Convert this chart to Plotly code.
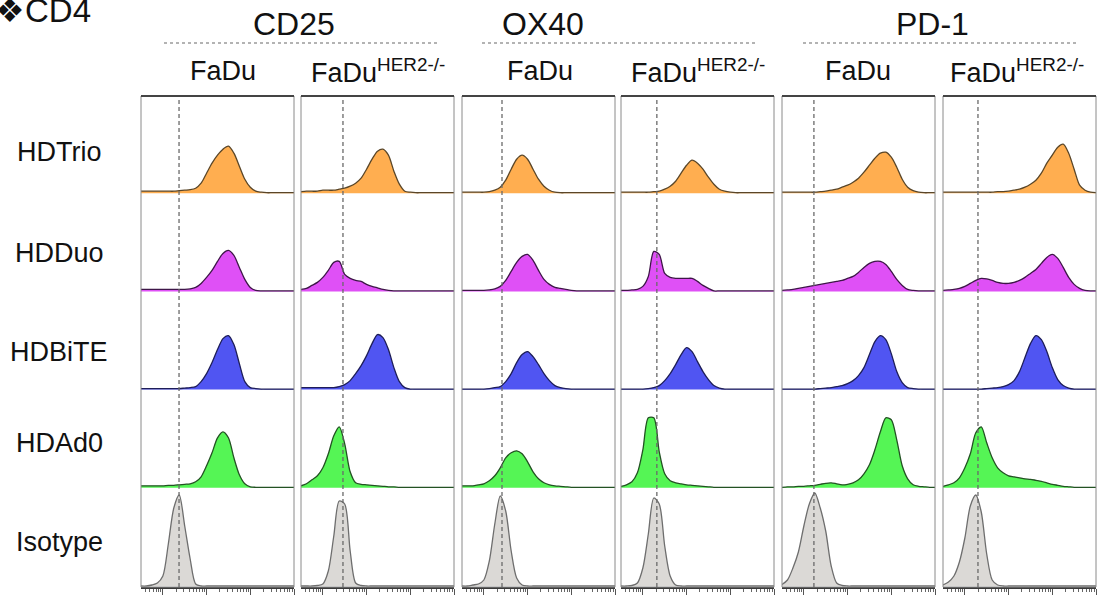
import math
import plotly.graph_objects as go

W, H = 1099, 595

# ---------------- data ----------------
# fluorescence axis (log10 decades), shared bin centres
X_DEC = [-0.5, -0.375, -0.25, -0.125, 0.0, 0.125, 0.25, 0.375, 0.5, 0.625,
         0.75, 0.875, 1.0, 1.125, 1.25, 1.375, 1.5, 1.625, 1.75, 1.875,
         2.0, 2.125, 2.25, 2.375, 2.5, 2.625, 2.75, 2.875, 3.0]

MARKERS = ["CD25", "OX40", "PD-1"]
CELL_LINES = ["FaDu", "FaDu<sup>HER2-/-</sup>"]
TREATMENTS = ["HDTrio", "HDDuo", "HDBiTE", "HDAd0", "Isotype"]
# isotype reference (dashed line) per panel, log10 decades
ISO_PEAK = [0.37, 0.46, 0.415, 0.32, 0.23, 0.30]

# CD25 / FaDu
CD25_FADU_HDTRIO = [2, 2, 2, 2, 2, 2, 2, 2.5, 3, 3.5, 5, 10, 20, 30, 38, 44, 47, 40, 27, 14, 6, 2, 1, 0.5, 0.5, 0.5, 0.5, 0.5, 0.5]
CD25_FADU_HDDUO = [2, 2, 2, 2, 2, 2, 2, 2, 2, 2.5, 4, 8, 14, 21, 30, 38, 41, 36, 24, 12, 4, 1, 0.5, 0.5, 0.5, 0.5, 0.5, 0.5, 0.5]
CD25_FADU_HDBITE = [1, 1, 1, 1, 1, 1, 1, 1, 1.5, 2, 3, 8, 16, 27, 40, 51, 54, 45, 26, 8, 2, 1, 0.5, 0.5, 0.5, 0.5, 0.5, 0.5, 0.5]
CD25_FADU_HDAD0 = [2, 2, 2, 2, 2, 2.5, 2.5, 3, 3.5, 4, 6, 11, 22, 35, 50, 56, 50, 30, 13, 4, 1, 0.5, 0.5, 0.5, 0.5, 0.5, 0.5, 0.5, 0.5]
CD25_FADU_ISOTYPE = [0, 0, 1, 3, 10, 42, 78, 91, 60, 27, 2, 0, 0, 0, 0, 0, 0, 0, 0, 0, 0, 0, 0, 0, 0, 0, 0, 0, 0]

# CD25 / FaDu HER2-/-
CD25_HER2KO_HDTRIO = [1.5, 2, 2, 2, 3, 3, 3, 4, 5, 7, 10, 15, 24, 34, 42, 44, 38, 22, 9, 2, 1, 0.5, 0.5, 0.5, 0.5, 0.5, 0.5, 0.5, 0.5]
CD25_HER2KO_HDDUO = [2, 3, 6, 9, 14, 21, 29, 30, 17, 13, 11, 10, 7, 5, 3.5, 2, 1, 0.5, 0.5, 0.5, 0.5, 0.5, 0.5, 0.5, 0.5, 0.5, 0.5, 0.5, 0.5]
CD25_HER2KO_HDBITE = [2, 2, 2, 2, 2, 2, 2, 3, 5, 9, 16, 24, 34, 46, 55, 52, 40, 22, 8, 2, 0.5, 0.5, 0.5, 0.5, 0.5, 0.5, 0.5, 0.5, 0.5]
CD25_HER2KO_HDAD0 = [2, 4, 8, 12, 20, 34, 52, 61, 44, 16, 5, 3.5, 3, 2.5, 2, 1.5, 1, 1, 0.5, 0.5, 0.5, 0.5, 0.5, 0.5, 0.5, 0.5, 0.5, 0.5, 0.5]
CD25_HER2KO_ISOTYPE = [0, 0, 0, 0.5, 2, 15, 50, 85, 82, 35, 3, 0.5, 0, 0, 0, 0, 0, 0, 0, 0, 0, 0, 0, 0, 0, 0, 0, 0, 0]

# OX40 / FaDu
OX40_FADU_HDTRIO = [1, 1, 1, 1, 1, 1.5, 3, 6, 13, 24, 34, 38, 34, 24, 14, 7, 3, 1, 0.5, 0.5, 0.5, 0.5, 0.5, 0.5, 0.5, 0.5, 0.5, 0.5, 0.5]
OX40_FADU_HDDUO = [1, 1, 1, 1, 1, 1.5, 2.5, 5, 11, 20, 29, 35, 37, 31, 21, 12, 7, 4, 3, 2, 1, 0.5, 0.5, 0.5, 0.5, 0.5, 0.5, 0.5, 0.5]
OX40_FADU_HDBITE = [0.5, 0.5, 0.5, 0.5, 0.5, 1, 2, 3, 8, 16, 27, 35, 38, 33, 25, 16, 9, 4, 2, 1, 0.5, 0.5, 0.5, 0.5, 0.5, 0.5, 0.5, 0.5, 0.5]
OX40_FADU_HDAD0 = [2, 2, 2, 3, 4, 7, 12, 20, 30, 35, 37, 34, 26, 16, 9, 5, 3, 2, 1.5, 1, 0.5, 0.5, 0.5, 0.5, 0.5, 0.5, 0.5, 0.5, 0.5]
OX40_FADU_ISOTYPE = [0, 0, 1, 2, 6, 25, 62, 90, 75, 35, 8, 1, 0, 0, 0, 0, 0, 0, 0, 0, 0, 0, 0, 0, 0, 0, 0, 0, 0]

# OX40 / FaDu HER2-/-
OX40_HER2KO_HDTRIO = [1, 1, 1, 1, 1, 1, 1.5, 2, 4, 7, 12, 20, 28, 33, 30, 24, 16, 9, 4, 2, 1, 0.5, 0.5, 0.5, 0.5, 0.5, 0.5, 0.5, 0.5]
OX40_HER2KO_HDDUO = [1, 1, 1.5, 2, 5, 15, 40, 37, 18, 14, 13, 13, 13, 13, 10, 6, 3, 0.5, 0.5, 0.5, 0.5, 0.5, 0.5, 0.5, 0.5, 0.5, 0.5, 0.5, 0.5]
OX40_HER2KO_HDBITE = [0.5, 0.5, 0.5, 0.5, 0.5, 1, 2, 4, 9, 16, 25, 35, 42, 38, 28, 18, 10, 4, 1.5, 0.5, 0.5, 0.5, 0.5, 0.5, 0.5, 0.5, 0.5, 0.5, 0.5]
OX40_HER2KO_HDAD0 = [1.5, 3, 6, 15, 38, 70, 70, 36, 14, 7, 5, 4, 3, 2.5, 2, 1.5, 1, 0.5, 0.5, 0.5, 0.5, 0.5, 0.5, 0.5, 0.5, 0.5, 0.5, 0.5, 0.5]
OX40_HER2KO_ISOTYPE = [0, 0, 0.5, 3, 18, 52, 88, 82, 40, 10, 1, 0, 0, 0, 0, 0, 0, 0, 0, 0, 0, 0, 0, 0, 0, 0, 0, 0, 0]

# PD-1 / FaDu
PD1_FADU_HDTRIO = [1, 1, 1, 1, 1, 1, 1, 1.5, 2, 3, 4, 6, 8, 11, 15, 21, 28, 35, 40, 41, 36, 26, 14, 6, 2.5, 1, 0.5, 0.5, 0.5]
PD1_FADU_HDDUO = [1, 1.5, 2, 3, 4, 5, 6, 7, 8, 9, 10, 11, 13, 15, 19, 24, 28, 30, 30, 27, 20, 12, 6, 2, 1, 0.5, 0.5, 0.5, 0.5]
PD1_FADU_HDBITE = [0.5, 0.5, 0.5, 0.5, 0.5, 0.5, 0.5, 1, 1.5, 2, 3, 4, 6, 9, 14, 22, 35, 48, 54, 50, 36, 18, 7, 2, 1, 0.5, 0.5, 0.5, 0.5]
PD1_FADU_HDAD0 = [0.5, 1, 1, 1.5, 1.5, 2, 2.5, 3.5, 4.5, 5, 4, 3, 3.5, 5, 8, 14, 23, 38, 56, 70, 68, 48, 22, 9, 3, 1.5, 1, 0.5, 0.5]
PD1_FADU_ISOTYPE = [1.5, 6, 18, 34, 60, 82, 93, 78, 55, 20, 3, 0.5, 0, 0, 0, 0, 0, 0, 0, 0, 0, 0, 0, 0, 0, 0, 0, 0, 0]

# PD-1 / FaDu HER2-/-
PD1_HER2KO_HDTRIO = [1, 1, 1, 1, 1, 1, 1, 1, 1, 1, 1.5, 1.5, 2, 3, 4, 6, 9, 13, 20, 30, 38, 46, 49, 40, 24, 8, 3, 1, 0.5]
PD1_HER2KO_HDDUO = [1, 1.5, 2, 3, 5, 8, 11, 13, 12.5, 11, 9, 8, 8, 9, 11, 14, 18, 22, 28, 34, 37, 33, 24, 14, 7, 3, 1, 0.5, 0.5]
PD1_HER2KO_HDBITE = [0.5, 0.5, 0.5, 0.5, 0.5, 0.5, 0.5, 0.5, 1, 1.5, 2, 3, 5, 9, 18, 32, 46, 54, 50, 38, 22, 10, 4, 1.5, 0.5, 0.5, 0.5, 0.5, 0.5]
PD1_HER2KO_HDAD0 = [1.5, 3, 5, 10, 20, 34, 55, 61, 45, 30, 20, 15, 12, 11, 10, 9, 8.5, 7.5, 6.5, 5, 3.5, 2.5, 1.5, 1, 0.5, 0.5, 0.5, 0.5, 0.5]
PD1_HER2KO_ISOTYPE = [1, 4, 10, 24, 48, 80, 91, 74, 32, 6, 1, 0, 0, 0, 0, 0, 0, 0, 0, 0, 0, 0, 0, 0, 0, 0, 0, 0, 0]

PANELS = [
    [CD25_FADU_HDTRIO, CD25_FADU_HDDUO, CD25_FADU_HDBITE, CD25_FADU_HDAD0, CD25_FADU_ISOTYPE],
    [CD25_HER2KO_HDTRIO, CD25_HER2KO_HDDUO, CD25_HER2KO_HDBITE, CD25_HER2KO_HDAD0, CD25_HER2KO_ISOTYPE],
    [OX40_FADU_HDTRIO, OX40_FADU_HDDUO, OX40_FADU_HDBITE, OX40_FADU_HDAD0, OX40_FADU_ISOTYPE],
    [OX40_HER2KO_HDTRIO, OX40_HER2KO_HDDUO, OX40_HER2KO_HDBITE, OX40_HER2KO_HDAD0, OX40_HER2KO_ISOTYPE],
    [PD1_FADU_HDTRIO, PD1_FADU_HDDUO, PD1_FADU_HDBITE, PD1_FADU_HDAD0, PD1_FADU_ISOTYPE],
    [PD1_HER2KO_HDTRIO, PD1_HER2KO_HDDUO, PD1_HER2KO_HDBITE, PD1_HER2KO_HDAD0, PD1_HER2KO_ISOTYPE],
]

# ---------------- style / layout ----------------
FILL = ["#FFAE50", "#DF50F6", "#5055F2", "#55F555", "#DBD9D6"]
EDGE = ["#5A4628", "#3E1648", "#1E1E58", "#235223", "#6E6E6E"]
FONT = "Liberation Sans, Arial, sans-serif"

PANEL_L = [141, 301, 462, 621, 782, 943]
PANEL_W = 153
TOP = 96
ROW_H = 98.2
BOTTOM = TOP + 5 * ROW_H

def px_x(p):
    return p / W

def px_y(p):
    return 1 - p / H

fig = go.Figure()
xs = ["x"] + [f"x{i}" for i in range(2, 7)]
ys = ["y"] + [f"y{i}" for i in range(2, 6)]

for c, panel in enumerate(PANELS):
    for r, vals in enumerate(panel):
        fig.add_trace(go.Scatter(
            x=X_DEC, y=vals, xaxis=xs[c], yaxis=ys[r], mode="lines",
            line=dict(shape="spline", smoothing=0.8, color=EDGE[r], width=1.3),
            fill="tozeroy", fillcolor=FILL[r], hoverinfo="skip", showlegend=False))

minor_vals = []
for d in range(-1, 3):
    for k in range(2, 10):
        v = d + math.log10(k)
        if -0.5 <= v <= 3.0:
            minor_vals.append(v)

layout = dict(width=W, height=H, margin=dict(l=0, r=0, t=0, b=0),
              paper_bgcolor="white", plot_bgcolor="white", showlegend=False)
for c in range(6):
    key = "xaxis" if c == 0 else f"xaxis{c+1}"
    layout[key] = dict(
        domain=[px_x(PANEL_L[c]), px_x(PANEL_L[c] + PANEL_W)], range=[-0.5, 3.0],
        anchor="y5", showgrid=False, zeroline=False, showline=True,
        linecolor="#3a3a3a", linewidth=1.6, ticks="outside", tickvals=[0, 1, 2, 3],
        ticklen=6, tickwidth=1, tickcolor="#555", showticklabels=False, fixedrange=True,
        minor=dict(tickmode="array", tickvals=minor_vals, ticks="outside",
                   ticklen=3.5, tickwidth=1, tickcolor="#666", showgrid=False))
for r in range(5):
    key = "yaxis" if r == 0 else f"yaxis{r+1}"
    top = TOP + r * ROW_H
    layout[key] = dict(domain=[px_y(top + ROW_H), px_y(top)], range=[-1, ROW_H - 1],
                       visible=False, anchor="x", fixedrange=True)

shapes = []
for c in range(6):
    l, rr = px_x(PANEL_L[c]), px_x(PANEL_L[c] + PANEL_W)
    shapes.append(dict(type="rect", xref="paper", yref="paper", x0=l, x1=rr,
                       y0=px_y(BOTTOM), y1=px_y(TOP), line=dict(color="#8a8a8a", width=1),
                       layer="above"))
    shapes.append(dict(type="line", xref="paper", yref="paper", x0=l, x1=rr,
                       y0=px_y(TOP), y1=px_y(TOP), line=dict(color="#444", width=2.2),
                       layer="above"))
    shapes.append(dict(type="line", xref=xs[c], yref="paper", x0=ISO_PEAK[c], x1=ISO_PEAK[c],
                       y0=px_y(BOTTOM), y1=px_y(TOP + 4),
                       line=dict(color="#6a6a6a", width=1.3, dash="4px,3px"), layer="above"))

# dotted header rules
RULES = [(164, 437), (482, 757), (803, 1077)]
for a, b in RULES:
    shapes.append(dict(type="line", xref="paper", yref="paper", x0=px_x(a), x1=px_x(b),
                       y0=px_y(43), y1=px_y(43), line=dict(color="#9a9a9a", width=1.6, dash="dot")))
layout["shapes"] = shapes

ann = []
MARKER_CX = [294, 543, 932]
for m, cx in zip(MARKERS, MARKER_CX):
    ann.append(dict(text=m, x=px_x(cx), y=px_y(24), xref="paper", yref="paper",
                    xanchor="center", yanchor="middle", showarrow=False,
                    font=dict(family=FONT, size=32, color="#111")))
SUB_CX = [223, 378, 540, 698, 858, 1017]
for c, cx in enumerate(SUB_CX):
    ann.append(dict(text=CELL_LINES[c % 2], x=px_x(cx), y=px_y(71), xref="paper", yref="paper",
                    xanchor="center", yanchor="middle", showarrow=False,
                    font=dict(family=FONT, size=27, color="#111")))
ROW_CY = [152, 253, 352, 443, 542]
for t, cy in zip(TREATMENTS, ROW_CY):
    ann.append(dict(text=t, x=px_x(59), y=px_y(cy), xref="paper", yref="paper",
                    xanchor="center", yanchor="middle", showarrow=False,
                    font=dict(family=FONT, size=27, color="#111")))
ann.append(dict(text="❖CD4", x=px_x(93), y=px_y(10), xref="paper", yref="paper",
                xanchor="right", yanchor="middle", showarrow=False,
                font=dict(family=FONT, size=33, color="#111")))
layout["annotations"] = ann

fig.update_layout(**layout)
fig.write_html("out.html")
